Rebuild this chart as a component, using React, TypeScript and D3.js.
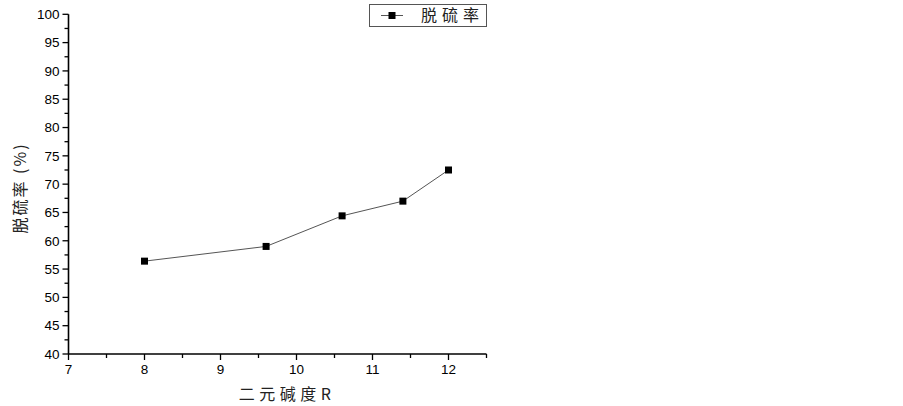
import React from "react";
import * as d3 from "d3";

const xValues = [8, 9.6, 10.6, 11.4, 12];
const yValues = [56.4, 59.0, 64.4, 67.0, 72.5];
const xTicks = [7, 8, 9, 10, 11, 12];
const yTicks = [40, 45, 50, 55, 60, 65, 70, 75, 80, 85, 90, 95, 100];
const seriesName = "脱硫率";
const xLabel = "二元碱度R";
const yLabel = "脱硫率 (%)";

export default function App() {
  const W = 903, H = 406;
  const x = d3.scaleLinear().domain([7, 12.5]).range([68.5, 486.5]);
  const y = d3.scaleLinear().domain([40, 100]).range([354, 14.3]);
  const line = d3.line<number>().x((_, i) => x(xValues[i])).y((d) => y(d));
  const xMinor = d3.range(7.5, 12.6, 1);
  const yMinor = d3.range(42.5, 100, 5);
  const font = "'Liberation Sans', Arial, sans-serif";
  const cjk = "'Noto Sans CJK SC', sans-serif";
  return (
    <svg width={W} height={H} style={{ position: "absolute", left: 0, top: 0, background: "#fff" }}>
      <rect width={W} height={H} fill="#fff" />
      {/* axes */}
      <line x1={x(7)} x2={x(12.5)} y1={y(40)} y2={y(40)} stroke="#000" strokeWidth={1.6} />
      <line x1={x(7)} x2={x(7)} y1={y(40)} y2={y(100)} stroke="#000" strokeWidth={1.6} />
      {xTicks.map((t) => (
        <g key={"xt" + t}>
          <line x1={x(t)} x2={x(t)} y1={y(40)} y2={y(40) + 6} stroke="#000" strokeWidth={1.3} />
          <text x={x(t)} y={y(40) + 20} textAnchor="middle" fontFamily={font} fontSize={13.5}>{t}</text>
        </g>
      ))}
      {xMinor.map((t) => (
        <line key={"xm" + t} x1={x(t)} x2={x(t)} y1={y(40)} y2={y(40) + 4} stroke="#000" strokeWidth={1.3} />
      ))}
      {yTicks.map((t) => (
        <g key={"yt" + t}>
          <line x1={x(7) - 6} x2={x(7)} y1={y(t)} y2={y(t)} stroke="#000" strokeWidth={1.3} />
          <text x={x(7) - 9} y={y(t) + 4.8} textAnchor="end" fontFamily={font} fontSize={13.5}>{t}</text>
        </g>
      ))}
      {yMinor.map((t) => (
        <line key={"ym" + t} x1={x(7) - 4} x2={x(7)} y1={y(t)} y2={y(t)} stroke="#000" strokeWidth={1.3} />
      ))}
      {/* series */}
      <path d={line(yValues) || ""} fill="none" stroke="#555" strokeWidth={1} />
      {yValues.map((v, i) => (
        <rect key={"p" + i} x={x(xValues[i]) - 3.5} y={y(v) - 3.5} width={7} height={7} fill="#000" />
      ))}
      {/* axis labels */}
      <text x={287} y={400} textAnchor="middle" fontFamily={cjk} fontSize={16} letterSpacing={4.5} fill="#222">{xLabel}</text>
      <text transform={`translate(26,188) rotate(-90)`} textAnchor="middle" fontFamily={cjk} fontSize={16} letterSpacing={2} fill="#222">{yLabel}</text>
      {/* legend */}
      <rect x={369.5} y={4.5} width={117} height={22} fill="#fff" stroke="#555" strokeWidth={1} />
      <line x1={381} x2={403} y1={15.5} y2={15.5} stroke="#555" strokeWidth={1} />
      <rect x={388.5} y={12} width={7} height={7} fill="#000" />
      <text x={421} y={21} fontFamily={cjk} fontSize={16} letterSpacing={5} fill="#222">{seriesName}</text>
    </svg>
  );
}
